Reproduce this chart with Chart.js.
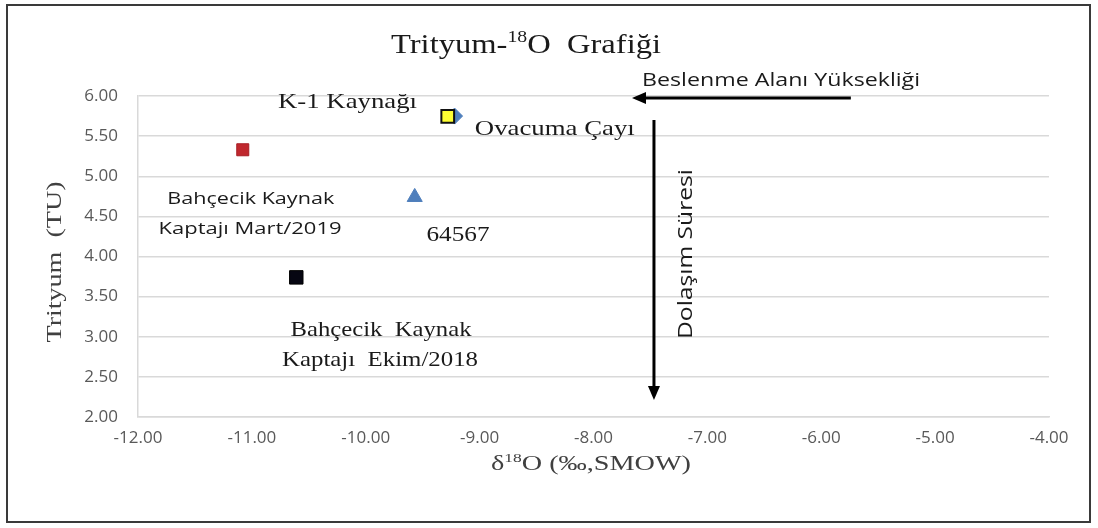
<!DOCTYPE html>
<html>
<head>
<meta charset="utf-8">
<script src="https://cdn.jsdelivr.net/npm/chart.js@4/dist/chart.umd.min.js"></script>
<style>
  html, body { margin: 0; padding: 0; background: #fff; }
  #wrap { width: 1098px; height: 528px; }
</style>
</head>
<body>
<div id="wrap"><canvas id="isoChart" width="1098" height="528"></canvas></div>
<script>
// sample points (δ18O, tritium)
const sampleNames = ['Bahçecik Mart/2019', '64567', 'Bahçecik Ekim/2018', 'K-1 Kaynağı', 'Ovacuma Çayı'];
const o18Values = [-11.08, -9.57, -10.61, -9.28, -9.22];
const tritiumValues = [5.33, 4.74, 3.74, 5.745, 5.75];

const xTicks = [-12, -11, -10, -9, -8, -7, -6, -5, -4];
const yTicks = [2.0, 2.5, 3.0, 3.5, 4.0, 4.5, 5.0, 5.5, 6.0];

const serif = '"Liberation Serif", "Times New Roman", serif';
const sans = '"Open Sans", "Noto Sans", sans-serif';

// point labels: centre x and baseline y in data units, w = stretched width in px
const noteLines = [
  { text: 'K-1 Kaynağı', x: -10.16, y: 5.85, font: '21px ' + serif, w: 139 },
  { text: 'Ovacuma Çayı', x: -8.34, y: 5.514, font: '21px ' + serif, w: 160 },
  { text: 'Bahçecik Kaynak', x: -11.01, y: 4.654, font: '17px ' + sans, w: 167 },
  { text: 'Kaptajı Mart/2019', x: -11.016, y: 4.28, font: '17px ' + sans, w: 183 },
  { text: '64567', x: -9.19, y: 4.193, font: '21px ' + serif, w: 63 },
  { text: 'Bahçecik  Kaynak', x: -9.866, y: 3.009, font: '21px ' + serif, w: 181 },
  { text: 'Kaptajı  Ekim/2018', x: -9.875, y: 2.636, font: '21px ' + serif, w: 196 },
  { text: 'Beslenme Alanı Yüksekliği', x: -6.353, y: 6.13, font: '19px ' + sans, w: 278 }
];

function markerStyle(i) {
  const styles = [
    { pointStyle: 'rect', pointRadius: 8.5, backgroundColor: '#c0282e', borderColor: '#a81e26', borderWidth: 1 },
    { pointStyle: 'triangle', pointRadius: 8.7, backgroundColor: '#4f7fbc', borderColor: '#4f7fbc', borderWidth: 1 },
    { pointStyle: 'rect', pointRadius: 9.5, backgroundColor: '#060612', borderColor: '#000', borderWidth: 1 },
    { pointStyle: 'rect', pointRadius: 9, backgroundColor: '#ffff33', borderColor: '#111', borderWidth: 2 },
    { pointStyle: 'rectRot', pointRadius: 8, backgroundColor: '#4f7fbc', borderColor: '#4f7fbc', borderWidth: 1 }
  ];
  return styles[i];
}

const datasets = sampleNames.map((name, i) => Object.assign({
  label: name,
  data: [{ x: o18Values[i], y: tritiumValues[i] }],
  order: i === 4 ? 10 : i
}, markerStyle(i)));

// a run of [text, font, dy] pieces, squeezed/stretched to width w around cx
function drawRun(ctx, parts, cx, baseline, w) {
  let total = 0;
  const widths = parts.map(p => { ctx.font = p[1]; const m = ctx.measureText(p[0]).width; total += m; return m; });
  const s = w / total;
  ctx.save();
  ctx.translate(cx, baseline);
  ctx.scale(s, 1);
  ctx.textAlign = 'left';
  let x = -total / 2;
  parts.forEach((p, i) => {
    ctx.font = p[1];
    ctx.fillText(p[0], x, p[2] || 0);
    x += widths[i];
  });
  ctx.restore();
}

// title, axis titles, arrows, notes and the outer frame
const decorPlugin = {
  id: 'decor',
  afterDraw(chart) {
    const ctx = chart.ctx;
    const xs = chart.scales.x, ys = chart.scales.y;
    ctx.save();
    ctx.textBaseline = 'alphabetic';

    // frame
    ctx.strokeStyle = '#3a3a3a';
    ctx.lineWidth = 2;
    ctx.strokeRect(7, 5, 1083, 517);

    // main title
    ctx.fillStyle = '#1a1a1a';
    drawRun(ctx, [['Trityum-', '28px ' + serif], ['18', '17px ' + serif, -11], ['O  Grafiği', '28px ' + serif]], 526, 53, 270);

    // x axis title
    ctx.fillStyle = '#404040';
    drawRun(ctx, [['δ', '21px ' + serif], ['18', '13px ' + serif, -8], ['O (‰,SMOW)', '21px ' + serif]], 591, 470, 200);

    // y axis title
    ctx.save();
    ctx.translate(61, 262);
    ctx.rotate(-Math.PI / 2);
    drawRun(ctx, [['Trityum  (TU)', '20px ' + serif]], 0, 0, 161);
    ctx.restore();

    // notes
    ctx.fillStyle = '#1a1a1a';
    noteLines.forEach(n => {
      drawRun(ctx, [[n.text, n.font]], xs.getPixelForValue(n.x), ys.getPixelForValue(n.y), n.w);
    });

    // vertical note
    ctx.save();
    ctx.translate(692, 254);
    ctx.rotate(-Math.PI / 2);
    drawRun(ctx, [['Dolaşım Süresi', '20px ' + sans]], 0, 0, 170);
    ctx.restore();

    // arrows
    ctx.strokeStyle = '#000';
    ctx.fillStyle = '#000';
    ctx.lineWidth = 3;
    const hy = ys.getPixelForValue(5.975);
    const hx0 = xs.getPixelForValue(-5.74), hx1 = xs.getPixelForValue(-7.662);
    ctx.beginPath();
    ctx.moveTo(hx0, hy);
    ctx.lineTo(hx1 + 12, hy);
    ctx.stroke();
    ctx.beginPath();
    ctx.moveTo(hx1, hy);
    ctx.lineTo(hx1 + 14, hy - 6);
    ctx.lineTo(hx1 + 14, hy + 6);
    ctx.closePath();
    ctx.fill();

    const vx = xs.getPixelForValue(-7.469);
    const vy0 = ys.getPixelForValue(5.70), vy1 = ys.getPixelForValue(2.212);
    ctx.beginPath();
    ctx.moveTo(vx, vy0);
    ctx.lineTo(vx, vy1 - 12);
    ctx.stroke();
    ctx.beginPath();
    ctx.moveTo(vx, vy1);
    ctx.lineTo(vx - 6, vy1 - 14);
    ctx.lineTo(vx + 6, vy1 - 14);
    ctx.closePath();
    ctx.fill();

    ctx.restore();
  }
};

new Chart(document.getElementById('isoChart'), {
  type: 'scatter',
  data: { datasets: datasets },
  options: {
    responsive: false,
    animation: false,
    layout: { padding: { top: 96, right: 49, left: 0, bottom: 0 } },
    plugins: { legend: { display: false }, tooltip: { enabled: false } },
    scales: {
      x: {
        type: 'linear',
        min: xTicks[0],
        max: xTicks[xTicks.length - 1],
        afterBuildTicks: s => { s.ticks = xTicks.map(v => ({ value: v })); },
        afterFit: s => { s.height = 111; },
        grid: { display: false, drawTicks: false },
        border: { display: true, color: '#d9d9d9', width: 1.5 },
        ticks: {
          padding: 11,
          color: '#595959',
          font: { family: sans, size: 17 },
          callback: v => v.toFixed(2)
        }
      },
      y: {
        type: 'linear',
        min: yTicks[0],
        max: yTicks[yTicks.length - 1],
        afterBuildTicks: s => { s.ticks = yTicks.map(v => ({ value: v })); },
        afterFit: s => { s.width = 138; },
        grid: { color: '#d9d9d9', lineWidth: 1.5, drawTicks: false },
        border: { display: true, color: '#d9d9d9', width: 1.5 },
        ticks: {
          padding: 20,
          color: '#595959',
          font: { family: sans, size: 17 },
          callback: v => v.toFixed(2)
        }
      }
    }
  },
  plugins: [decorPlugin]
});
</script>
</body>
</html>
